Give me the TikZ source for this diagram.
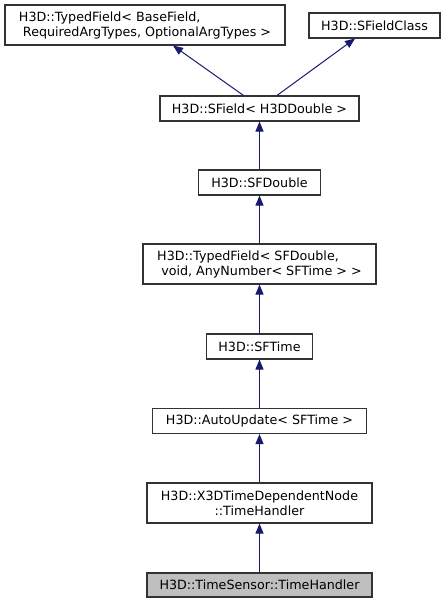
\documentclass[tikz,border=0pt]{standalone}
\usepackage{fontspec}
\setmainfont{DejaVu Sans}
\usetikzlibrary{arrows.meta}
\definecolor{edgecol}{HTML}{191970}
\definecolor{boxline}{HTML}{333333}
\definecolor{curfill}{HTML}{BFBFBF}
\begin{document}
\begin{tikzpicture}[x=1pt,y=-1pt,
  cls/.style={draw=boxline,line width=1.1pt,fill=white,inner sep=0pt,
    font=\fontsize{12.7}{15}\selectfont,align=left},
  arr/.style={draw=edgecol,line width=1pt,-{Triangle[length=10pt,width=8pt]}}]
\useasboundingbox (0,0) rectangle (445,604);
\node[cls,minimum width=280pt,minimum height=40pt] (tf1) at (145,25)
  {H3D::TypedField< BaseField,\\\ RequiredArgTypes, OptionalArgTypes >};
\node[cls,minimum width=131pt,minimum height=25pt] (sfc) at (374.5,25.5) {H3D::SFieldClass};
\node[cls,minimum width=199pt,minimum height=25pt] (sf) at (259.5,108.5) {H3D::SField< H3DDouble >};
\node[cls,minimum width=122pt,minimum height=25pt] (sfd) at (259.5,182.5) {H3D::SFDouble};
\node[cls,minimum width=233pt,minimum height=40pt] (tf2) at (259.5,264)
  {H3D::TypedField< SFDouble,\\\ void, AnyNumber< SFTime > >};
\node[cls,minimum width=106pt,minimum height=25pt] (sft) at (259.5,346.5) {H3D::SFTime};
\node[cls,minimum width=214pt,minimum height=25pt] (au) at (259.5,421) {H3D::AutoUpdate< SFTime >};
\node[cls,align=center,minimum width=225pt,minimum height=40pt] (x3d) at (259.5,503)
  {H3D::X3DTimeDependentNode\\::TimeHandler};
\node[cls,fill=curfill,minimum width=225pt,minimum height=24pt] (ts) at (259.5,585) {H3D::TimeSensor::TimeHandler};
\draw[arr] ([xshift=-16pt]sf.north) -- ([xshift=28pt]tf1.south);
\draw[arr] ([xshift=17.5pt]sf.north) -- ([xshift=-19.5pt]sfc.south);
\draw[arr] (sfd.north) -- (sf.south);
\draw[arr] (tf2.north) -- (sfd.south);
\draw[arr] (sft.north) -- (tf2.south);
\draw[arr] (au.north) -- (sft.south);
\draw[arr] (x3d.north) -- (au.south);
\draw[arr] (ts.north) -- (x3d.south);
\end{tikzpicture}
\end{document}
